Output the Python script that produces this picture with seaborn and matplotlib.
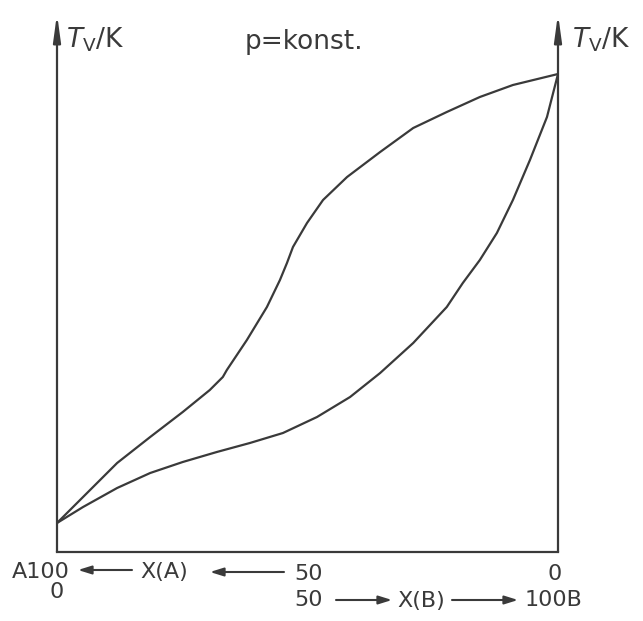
import matplotlib
matplotlib.use("Agg")
import matplotlib.pyplot as plt
import seaborn as sns
import pandas as pd

# mole fraction of B (%) and temperature (arbitrary units) for both curves
dew_x = [0, 5.2, 12.0, 18.6, 25.1, 30.5, 33.1, 33.9, 37.9, 41.9, 44.5, 45.9, 47.1,
         49.9, 53.1, 57.9, 64.5, 71.1, 77.8, 84.4, 91.0, 100]
dew_T = [29, 55, 89, 115, 140, 162, 175, 182, 212, 245, 272, 289, 305,
         329, 352, 375, 400, 424, 440, 455, 467, 478]
boil_x = [0, 5.2, 12.0, 18.6, 25.1, 31.9, 38.5, 45.1, 51.9, 58.5, 64.5, 71.1,
          77.8, 81.0, 84.4, 87.8, 91.0, 94.4, 97.8, 100]
boil_T = [29, 45, 64, 79, 90, 100, 109, 119, 135, 155, 179, 209,
          245, 269, 292, 319, 352, 392, 435, 478]

sns.set_style("white")
plt.rcParams['font.family'] = ['DejaVu Sans']

W, H = 643, 621
fig = plt.figure(figsize=(W / 100, H / 100), dpi=100)
ax = fig.add_axes([57 / W, 69 / H, 501 / W, 538 / H])

c = "#3a3a3a"
df_dew = pd.DataFrame({"x": dew_x, "T": dew_T})
df_boil = pd.DataFrame({"x": boil_x, "T": boil_T})
sns.lineplot(data=df_dew, x="x", y="T", ax=ax, color=c, lw=1.6, sort=False,
             solid_joinstyle="round")
sns.lineplot(data=df_boil, x="x", y="T", ax=ax, color=c, lw=1.6, sort=False,
             solid_joinstyle="round")

ax.set_xlim(0, 100)
ax.set_ylim(0, 538)
for s in ["top", "left", "right"]:
    ax.spines[s].set_visible(False)
ax.spines["bottom"].set_color(c)
ax.spines["bottom"].set_linewidth(1.6)
ax.set_xticks([50])
ax.set_xticklabels([])
ax.set_yticks([])
ax.tick_params(axis="x", direction="out", length=6, width=1.6, color=c)
ax.set_xlabel("")
ax.set_ylabel("")

# vertical axes with arrowheads
for xa in (0, 1):
    ax.annotate("", xy=(xa, 1.0), xytext=(xa, 0.0), xycoords="axes fraction",
                arrowprops=dict(arrowstyle="-|>,head_length=1.6,head_width=0.22",
                                color=c, lw=1.6, shrinkA=0, shrinkB=0),
                annotation_clip=False)

def fp(x, y):
    return (x, H - y)

def txt(x, y, s, size=17, ha="left"):
    fig.text(x / W, 1 - y / H, s, fontsize=size, color=c, ha=ha, va="center")

# top labels
txt(66, 40, r"$T_\mathregular{V}$/K", size=19)
txt(572, 40, r"$T_\mathregular{V}$/K", size=19)
txt(245, 42, "p=konst.", size=19)

# bottom labels
txt(12, 572, "A100", size=16)
txt(140, 572, "X(A)", size=16)
txt(294, 574, "50", size=16)
txt(555, 574, "0", size=16, ha="center")
txt(57, 592, "0", size=16, ha="center")
txt(294, 600, "50", size=16)
txt(397, 601, "X(B)", size=16)
txt(525, 600, "100B", size=16)

def farrow(x0, y0, x1, y1):
    ax.annotate("", xy=fp(x1, y1), xytext=fp(x0, y0), xycoords="figure pixels",
                textcoords="figure pixels",
                arrowprops=dict(arrowstyle="-|>,head_length=0.8,head_width=0.25",
                                color=c, lw=1.5, shrinkA=0, shrinkB=0),
                annotation_clip=False)

farrow(132, 570, 78, 570)
farrow(284, 572, 210, 572)
farrow(336, 600, 392, 600)
farrow(452, 600, 518, 600)

fig.savefig("out.png", dpi=100, facecolor="white")
